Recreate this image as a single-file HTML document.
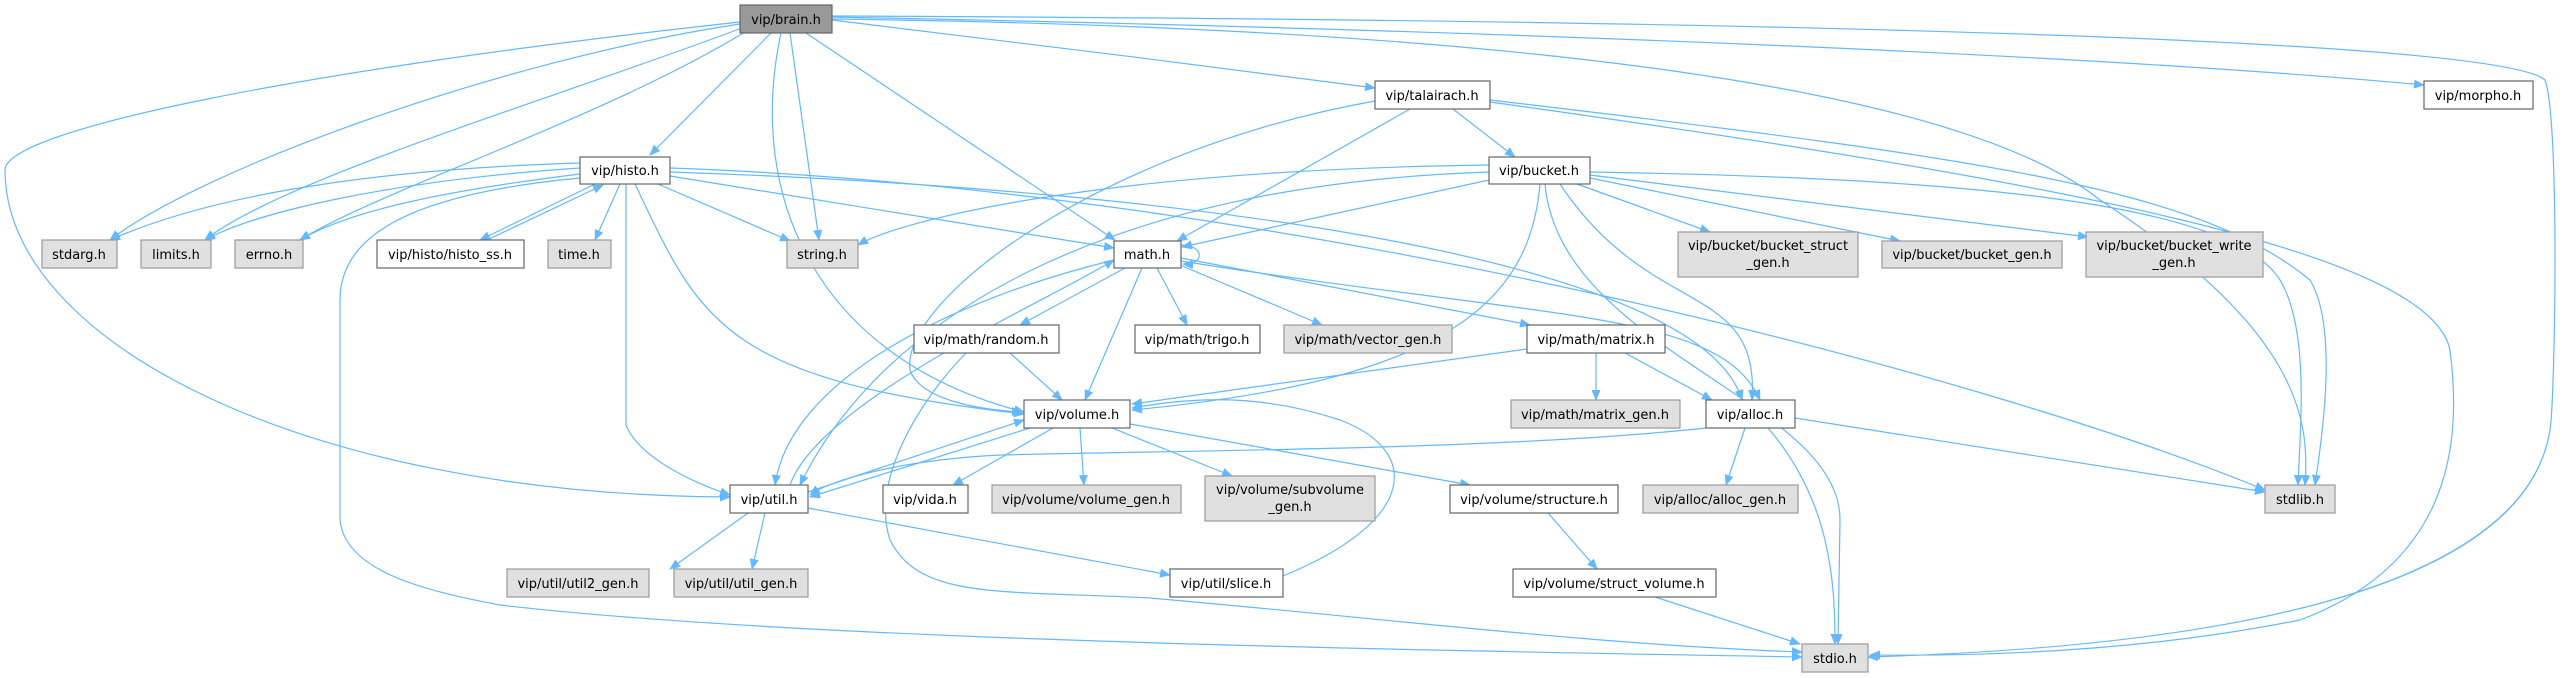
<!DOCTYPE html>
<html><head><meta charset="utf-8"><style>
html,body{margin:0;padding:0;background:#fff;}
svg{display:block}
text{font-family:"DejaVu Sans","Liberation Sans",sans-serif;font-size:13px;fill:#000;text-anchor:middle}
.e{fill:none;stroke:#63b8ff;stroke-width:1.2}
.w{fill:#fff;stroke:#666;stroke-width:1.2}
.g{fill:#e0e0e0;stroke:#999;stroke-width:1.2}
.b{fill:#999;stroke:#666;stroke-width:1.2}
</style></head><body>
<svg width="2572" height="678" viewBox="0 0 2572 678" xmlns="http://www.w3.org/2000/svg">
<defs><marker id="a" markerWidth="11" markerHeight="9" refX="10" refY="4.5" orient="auto" markerUnits="userSpaceOnUse"><path d="M0,0 L11,4.5 L0,9 z" fill="#63b8ff"/></marker></defs>
<g class="e" marker-end="url(#a)">
<path d="M740,24 C500,60 200,170 110,240"/>
<path d="M742,28 C550,100 280,180 205,240"/>
<path d="M745,32 C600,120 380,190 300,240"/>
<path d="M771,33 L650,155"/>
<path d="M790,33 L819,240"/>
<path d="M806,33 L1115,240"/>
<path d="M781,33 C745,200 820,360 1024,412"/>
<path d="M740,22 C300,70 5,130 5,170 C5,340 300,495 730,497"/>
<path d="M832,20 C1000,40 1200,65 1375,88"/>
<path d="M832,17 C1500,30 2100,55 2424,85"/>
<path d="M832,19 C1700,30 2000,120 2100,200 C2300,330 2310,420 2305,485"/>
<path d="M832,16 C1800,20 2500,40 2545,80 C2560,120 2555,400 2550,430 C2520,620 2100,650 1868,657"/>
<path d="M1453,109 L1515,157"/>
<path d="M1410,109 L1177,241"/>
<path d="M1375,101 C1100,150 900,300 910,370 C920,400 980,410 1022,412"/>
<path d="M1490,100 C2000,160 2200,190 2310,280 C2340,330 2320,450 2315,485"/>
<path d="M1490,102 C2050,180 2430,250 2450,350 C2460,430 2460,560 2300,620 C2100,660 1900,655 1870,655"/>
<path d="M1489,165 C1100,170 900,220 858,245"/>
<path d="M1489,180 L1182,247"/>
<path d="M1489,172 C1100,185 880,320 800,485"/>
<path d="M1540,184 C1530,300 1450,380 1132,410"/>
<path d="M1560,184 C1650,320 1760,280 1752,400"/>
<path d="M1545,184 C1560,350 1840,400 1840,520 L1838,644"/>
<path d="M1590,172 C1950,178 2230,200 2280,280 C2310,330 2300,430 2298,485"/>
<path d="M1577,184 L1710,232"/>
<path d="M1590,178 L1900,241"/>
<path d="M1590,175 L2088,237"/>
<path d="M1181,245 C1205,245 1205,265 1183,264"/>
<path d="M1125,268 L1020,325"/>
<path d="M1157,268 L1187,325"/>
<path d="M1180,265 L1322,325"/>
<path d="M1181,258 L1530,325"/>
<path d="M1142,268 L1085,400"/>
<path d="M1181,261 C1550,320 1720,310 1760,400"/>
<path d="M1114,260 C950,300 790,380 775,485"/>
<path d="M580,163 C350,170 200,200 110,240"/>
<path d="M580,168 C400,180 260,210 205,240"/>
<path d="M580,174 C450,190 350,210 300,240"/>
<path d="M595,184 L480,240"/>
<path d="M487,240 L603,185"/>
<path d="M620,184 L595,240"/>
<path d="M658,184 L790,241"/>
<path d="M670,176 L1114,248"/>
<path d="M626,184 L626,425 C640,460 700,485 730,495"/>
<path d="M635,184 C700,320 720,380 1024,414"/>
<path d="M670,172 C1200,190 1700,260 1742,400"/>
<path d="M670,168 C1300,190 2000,380 2265,490"/>
<path d="M580,178 C400,195 340,240 340,300 L340,520 C345,570 420,590 500,605 C800,640 1400,650 1802,657"/>
<path d="M1010,353 L1062,400"/>
<path d="M966,353 C920,400 870,480 890,540 C920,600 1000,590 1150,598 C1400,620 1600,645 1802,652"/>
<path d="M1527,349 L1132,404"/>
<path d="M1596,353 L1596,400"/>
<path d="M1625,353 L1712,400"/>
<path d="M1030,428 L810,497"/>
<path d="M1053,428 L953,485"/>
<path d="M1080,428 L1084,485"/>
<path d="M1112,428 L1232,476"/>
<path d="M1130,424 L1470,485"/>
<path d="M808,492 L1024,420"/>
<path d="M790,485 C820,400 1050,300 1114,260"/>
<path d="M748,513 L670,569"/>
<path d="M765,513 L752,569"/>
<path d="M808,508 L1170,575"/>
<path d="M1283,576 C1420,520 1420,450 1340,420 C1250,390 1180,400 1132,408"/>
<path d="M1706,428 C1500,450 1200,450 1000,455 C900,460 830,480 810,495"/>
<path d="M1745,428 L1726,485"/>
<path d="M1768,428 C1830,500 1835,580 1835,644"/>
<path d="M1795,418 L2265,492"/>
<path d="M1548,513 L1597,569"/>
<path d="M1655,597 L1800,644"/>
</g>
<g>
<rect class="b" x="740" y="5" width="92" height="28"/><text x="786" y="24">vip/brain.h</text>
<rect class="w" x="580" y="157" width="90" height="27"/><text x="625" y="175">vip/histo.h</text>
<rect class="g" x="42" y="240" width="75" height="28"/><text x="79" y="259">stdarg.h</text>
<rect class="g" x="141" y="240" width="70" height="28"/><text x="176" y="259">limits.h</text>
<rect class="g" x="235" y="240" width="68" height="28"/><text x="269" y="259">errno.h</text>
<rect class="w" x="377" y="240" width="147" height="28"/><text x="450" y="259">vip/histo/histo_ss.h</text>
<rect class="g" x="548" y="240" width="63" height="28"/><text x="579" y="259">time.h</text>
<rect class="g" x="787" y="240" width="71" height="28"/><text x="822" y="259">string.h</text>
<rect class="w" x="730" y="485" width="78" height="28"/><text x="769" y="504">vip/util.h</text>
<rect class="g" x="507" y="569" width="142" height="28"/><text x="578" y="588">vip/util/util2_gen.h</text>
<rect class="g" x="674" y="569" width="134" height="28"/><text x="741" y="588">vip/util/util_gen.h</text>
<rect class="w" x="1375" y="81" width="115" height="28"/><text x="1432" y="100">vip/talairach.h</text>
<rect class="w" x="1489" y="157" width="101" height="27"/><text x="1539" y="175">vip/bucket.h</text>
<rect class="w" x="1114" y="241" width="67" height="27"/><text x="1147" y="259">math.h</text>
<rect class="w" x="914" y="325" width="145" height="28"/><text x="986" y="344">vip/math/random.h</text>
<rect class="w" x="1135" y="325" width="125" height="28"/><text x="1197" y="344">vip/math/trigo.h</text>
<rect class="g" x="1284" y="325" width="168" height="28"/><text x="1368" y="344">vip/math/vector_gen.h</text>
<rect class="w" x="1527" y="325" width="138" height="28"/><text x="1596" y="344">vip/math/matrix.h</text>
<rect class="g" x="1678" y="232" width="180" height="45"/><text x="1768" y="250">vip/bucket/bucket_struct</text><text x="1768" y="267">_gen.h</text>
<rect class="g" x="1882" y="241" width="180" height="27"/><text x="1972" y="259">vip/bucket/bucket_gen.h</text>
<rect class="g" x="2086" y="232" width="177" height="45"/><text x="2174" y="250">vip/bucket/bucket_write</text><text x="2174" y="267">_gen.h</text>
<rect class="w" x="1024" y="400" width="106" height="28"/><text x="1077" y="419">vip/volume.h</text>
<rect class="g" x="1511" y="400" width="169" height="28"/><text x="1595" y="419">vip/math/matrix_gen.h</text>
<rect class="w" x="1706" y="400" width="89" height="28"/><text x="1750" y="419">vip/alloc.h</text>
<rect class="w" x="883" y="485" width="85" height="28"/><text x="925" y="504">vip/vida.h</text>
<rect class="g" x="992" y="485" width="189" height="28"/><text x="1086" y="504">vip/volume/volume_gen.h</text>
<rect class="g" x="1205" y="476" width="170" height="45"/><text x="1290" y="494">vip/volume/subvolume</text><text x="1290" y="511">_gen.h</text>
<rect class="w" x="1450" y="485" width="168" height="28"/><text x="1534" y="504">vip/volume/structure.h</text>
<rect class="g" x="1643" y="485" width="155" height="28"/><text x="1720" y="504">vip/alloc/alloc_gen.h</text>
<rect class="g" x="2265" y="485" width="70" height="28"/><text x="2300" y="504">stdlib.h</text>
<rect class="w" x="1170" y="569" width="113" height="28"/><text x="1226" y="588">vip/util/slice.h</text>
<rect class="w" x="1513" y="569" width="203" height="28"/><text x="1614" y="588">vip/volume/struct_volume.h</text>
<rect class="g" x="1802" y="644" width="66" height="28"/><text x="1835" y="663">stdio.h</text>
<rect class="w" x="2424" y="81" width="109" height="28"/><text x="2478" y="100">vip/morpho.h</text>
</g>
</svg>
</body></html>
